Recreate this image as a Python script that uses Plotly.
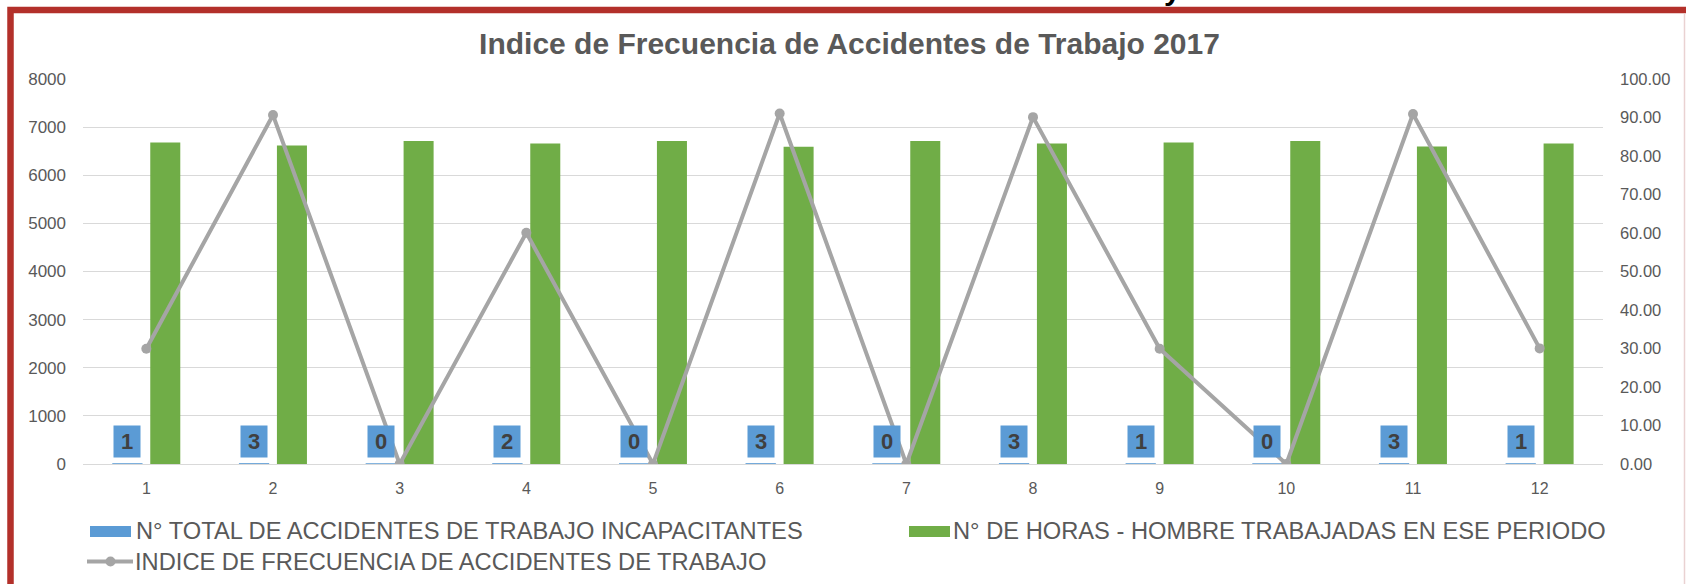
import plotly.graph_objects as go

# ---------------- data ----------------
months = list(range(1, 13))
month_labels = [str(m) for m in months]
accidents = [1, 3, 0, 2, 0, 3, 0, 3, 1, 0, 3, 1]
hours = [6680, 6620, 6710, 6660, 6710, 6590, 6710, 6660, 6680, 6710, 6600, 6660]
index_freq = [29.94, 90.63, 0.00, 60.06, 0.00, 91.05, 0.00, 90.09, 29.94, 0.00, 90.91, 30.03]
series_names = [
    "N° TOTAL DE ACCIDENTES DE TRABAJO INCAPACITANTES",
    "N° DE HORAS - HOMBRE TRABAJADAS EN ESE PERIODO",
    "INDICE DE FRECUENCIA DE ACCIDENTES DE TRABAJO",
]
title_text = "Indice de Frecuencia de Accidentes de Trabajo 2017"
left_ticks = list(range(0, 8001, 1000))
right_ticks = list(range(0, 101, 10))

# ---------------- style ----------------
BLUE = "#5B9BD5"
GREEN = "#70AD47"
GRAY = "#A5A5A5"
GRID = "#D9D9D9"
TXT = "#595959"
RED = "#B3302A"
FONT = "Arial, Liberation Sans, sans-serif"

W, H = 1686, 584
ML, MR, MT, MB = 83, 83, 79, 120
PW = W - ML - MR
PH = H - MT - MB


def px(x):
    return (x - ML) / PW


def py(y):
    return (H - MB - y) / PH


BAR_W = 0.237
BLUE_OFF = -0.268
GREEN_OFF = 0.031

fig = go.Figure()
fig.add_trace(go.Bar(
    x=months, y=accidents, name=series_names[0],
    marker=dict(color=BLUE, line=dict(color=BLUE, width=1)),
    width=BAR_W, offset=BLUE_OFF, yaxis="y",
))
fig.add_trace(go.Bar(
    x=months, y=hours, name=series_names[1],
    marker=dict(color=GREEN, line=dict(width=0)),
    width=BAR_W, offset=GREEN_OFF, yaxis="y",
))
fig.add_trace(go.Scatter(
    x=months, y=index_freq, name=series_names[2], mode="lines+markers",
    line=dict(color=GRAY, width=4), marker=dict(size=10, color=GRAY),
    yaxis="y2",
))

annotations = []
# data labels for accidents
for m, a in zip(months, accidents):
    annotations.append(dict(
        x=m + BLUE_OFF + BAR_W / 2, y=460, xref="x", yref="y",
        text=str(a), showarrow=False, bgcolor=BLUE, width=26, height=31,
        borderpad=0, xanchor="center", yanchor="middle",
        font=dict(family=FONT, size=22, color="#404040", weight="bold"),
    ))

# manual legend
shapes = []
shapes.append(dict(type="rect", xref="paper", yref="paper",
                   x0=px(90), x1=px(131), y0=py(537), y1=py(526),
                   fillcolor=BLUE, line=dict(width=0)))
shapes.append(dict(type="rect", xref="paper", yref="paper",
                   x0=px(909), x1=px(950), y0=py(537), y1=py(526),
                   fillcolor=GREEN, line=dict(width=0)))
shapes.append(dict(type="line", xref="paper", yref="paper",
                   x0=px(87), x1=px(133), y0=py(561.5), y1=py(561.5),
                   line=dict(color=GRAY, width=4)))
shapes.append(dict(type="circle", xref="paper", yref="paper",
                   x0=px(105.5), x1=px(115.5), y0=py(566.5), y1=py(556.5),
                   fillcolor=GRAY, line=dict(width=0)))
legend_pos = [(134, 531), (951, 531), (133, 561.5)]
for name, (lx, ly) in zip(series_names, legend_pos):
    annotations.append(dict(
        x=px(lx), y=py(ly), xref="paper", yref="paper", text=name,
        showarrow=False, xanchor="left", yanchor="middle",
        font=dict(family=FONT, size=23.7, color=TXT),
    ))

# frame
shapes.append(dict(type="rect", xref="paper", yref="paper",
                   x0=px(10.5), x1=px(1692), y0=py(620), y1=py(10),
                   line=dict(color=RED, width=6.5), fillcolor="rgba(0,0,0,0)"))
shapes.append(dict(type="line", xref="paper", yref="paper",
                   x0=px(1684.5), x1=px(1684.5), y0=py(584), y1=py(14),
                   line=dict(color="#EAD2D2", width=1.5)))

# cut-off heading fragment above the frame
annotations.append(dict(
    x=px(1172), y=py(8), xref="paper", yref="paper", text="y",
    showarrow=False, xanchor="center", yanchor="bottom",
    font=dict(family=FONT, size=30, color="#000000", weight="bold"),
))

fig.update_layout(
    width=W, height=H,
    margin=dict(l=ML, r=MR, t=MT, b=MB, pad=0),
    paper_bgcolor="white", plot_bgcolor="white",
    barmode="overlay", showlegend=False,
    title=dict(text=title_text, x=849.5 / W, xanchor="center",
               y=1 - 43 / H, yanchor="middle", xref="container", yref="container",
               font=dict(family=FONT, size=30, color=TXT, weight="bold")),
    xaxis=dict(range=[0.5, 12.5], tickvals=months, ticktext=month_labels,
               showgrid=False, zeroline=False, showline=True, linecolor=GRID,
               linewidth=1, ticks="", ticklabelstandoff=10,
               tickfont=dict(family=FONT, size=16, color=TXT)),
    yaxis=dict(range=[0, 8000], tickvals=left_ticks, showgrid=True,
               gridcolor=GRID, gridwidth=1, zeroline=False, showline=False,
               ticks="", ticklabelstandoff=16,
               tickfont=dict(family=FONT, size=17, color=TXT)),
    yaxis2=dict(range=[0, 100], tickvals=right_ticks, tickformat=".2f",
                overlaying="y", side="right", showgrid=False, zeroline=False,
                showline=False, ticks="", ticklabelstandoff=16,
                tickfont=dict(family=FONT, size=16.5, color=TXT)),
    annotations=annotations, shapes=shapes,
    font=dict(family=FONT),
)

fig.write_html(
    "out.html",
    config={"displayModeBar": False},
    post_script="document.body.style.margin='0';document.body.style.overflow='hidden';",
)
